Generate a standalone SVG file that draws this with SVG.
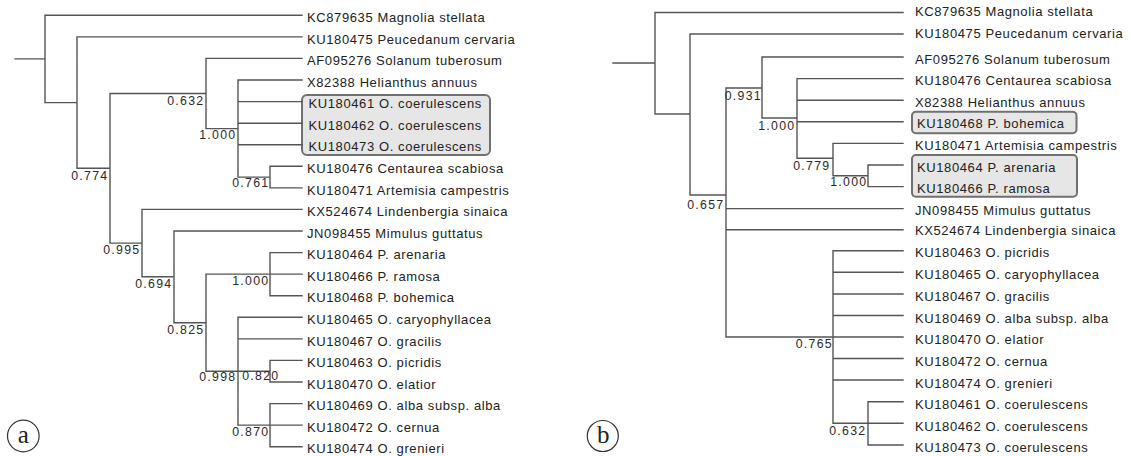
<svg xmlns="http://www.w3.org/2000/svg" width="1131" height="456" viewBox="0 0 1131 456">
<style>
.e{fill:none;stroke:#555;stroke-width:1.4;stroke-linecap:square}
.t{font-family:"Liberation Sans",Arial,sans-serif;font-size:13px;letter-spacing:0.6px;fill:#222}
.b{font-family:"Liberation Sans",Arial,sans-serif;font-size:12.3px;letter-spacing:1.3px;fill:#2a2a2a;text-anchor:end}
.box{fill:#e6e6e6;stroke:#707070;stroke-width:2}
.c{fill:none;stroke:#333;stroke-width:1.2}
.p{font-family:"Liberation Serif","Times New Roman",serif;font-size:25px;fill:#222;text-anchor:middle}
</style>
<rect width="1131" height="456" fill="#fff"/>
<g id="highlight-boxes">
<rect class="box" x="302" y="95" width="188" height="60" rx="5"/>
<rect class="box" x="912" y="111.7" width="164.5" height="21.6" rx="4"/>
<rect class="box" x="912" y="155" width="165" height="41.7" rx="4"/>
</g>
<g id="connectors">
<path class="e" d="M15 58.9H45M45 15.3V102.6M45 15.3H302M45 102.6H77M77 36.9V168.3M77 36.9H302M77 168.3H110M110 93.5V243.1M110 93.5H206M110 243.1H142M206 58.4V128.6M206 58.4H302M206 128.6H238M238 80V177.1M238 80H302M238 101.6H302M238 123.2H302M238 144.7H302M238 177.1H270M270 166.3V187.9M270 166.3H302M270 187.9H302M142 209.4V276.8M142 209.4H302M142 276.8H174M174 231V322.7M174 231H302M174 322.7H206M206 274.1V371.2M206 274.1H270M206 371.2H238M270 252.6V295.7M270 252.6H302M270 274.1H302M270 295.7H302M238 317.3V425.1M238 317.3H302M238 338.9H302M238 371.2H270M238 425.1H270M270 360.4V382M270 360.4H302M270 382H302M270 403.6V446.7M270 403.6H302M270 425.1H302M270 446.7H302"/>
<path class="e" d="M613 63H655M655 12.5V114M655 12.5H903M655 114H690M690 34V195M690 34H903M690 195H726M726 88V337M726 88H762M726 208.6H903M726 229.8H903M726 337H833M762 57V118M762 57H903M762 118H797M797 78.6V158.3M797 78.6H903M797 100.2H903M797 121.8H903M797 158.3H833M833 143.4V175.8M833 143.4H903M833 175.8H868M868 165V186.6M868 165H903M868 186.6H903M833 250.8V423.3M833 250.8H903M833 272.3H903M833 294H903M833 315.5H903M833 337H903M833 358.5H903M833 380H903M833 423.3H868M868 401.7V445M868 401.7H903M868 423.3H903M868 445H903"/>
</g>
<g id="tree-a-leaves">
<text class="t" x="307" y="22">KC879635 Magnolia stellata</text>
<text class="t" x="307" y="43.6">KU180475 Peucedanum cervaria</text>
<text class="t" x="307" y="65.1">AF095276 Solanum tuberosum</text>
<text class="t" x="307" y="86.7">X82388 Helianthus annuus</text>
<text class="t" x="308.5" y="108.3">KU180461 O. coerulescens</text>
<text class="t" x="308.5" y="129.9">KU180462 O. coerulescens</text>
<text class="t" x="308.5" y="151.4">KU180473 O. coerulescens</text>
<text class="t" x="307" y="173">KU180476 Centaurea scabiosa</text>
<text class="t" x="307" y="194.6">KU180471 Artemisia campestris</text>
<text class="t" x="307" y="216.1">KX524674 Lindenbergia sinaica</text>
<text class="t" x="307" y="237.7">JN098455 Mimulus guttatus</text>
<text class="t" x="307" y="259.3">KU180464 P. arenaria</text>
<text class="t" x="307" y="280.8">KU180466 P. ramosa</text>
<text class="t" x="307" y="302.4">KU180468 P. bohemica</text>
<text class="t" x="307" y="324">KU180465 O. caryophyllacea</text>
<text class="t" x="307" y="345.6">KU180467 O. gracilis</text>
<text class="t" x="307" y="367.1">KU180463 O. picridis</text>
<text class="t" x="307" y="388.7">KU180470 O. elatior</text>
<text class="t" x="307" y="410.3">KU180469 O. alba subsp. alba</text>
<text class="t" x="307" y="431.8">KU180472 O. cernua</text>
<text class="t" x="307" y="453.4">KU180474 O. grenieri</text>
</g>
<g id="tree-a-support">
<text class="b" x="204.5" y="104.5">0.632</text>
<text class="b" x="236.5" y="138.5">1.000</text>
<text class="b" x="108.5" y="179.5">0.774</text>
<text class="b" x="269.5" y="187">0.761</text>
<text class="b" x="140.5" y="254">0.995</text>
<text class="b" x="172.5" y="288.3">0.694</text>
<text class="b" x="204.5" y="334">0.825</text>
<text class="b" x="269.5" y="285.3">1.000</text>
<text class="b" x="236.5" y="381.3">0.998</text>
<text class="b" x="279.5" y="380.3">0.820</text>
<text class="b" x="269.5" y="436">0.870</text>
</g>
<g id="tree-b-leaves">
<text class="t" x="915" y="16">KC879635 Magnolia stellata</text>
<text class="t" x="915" y="37.7">KU180475 Peucedanum cervaria</text>
<text class="t" x="915" y="63.5">AF095276 Solanum tuberosum</text>
<text class="t" x="915" y="84.7">KU180476 Centaurea scabiosa</text>
<text class="t" x="915" y="106.5">X82388 Helianthus annuus</text>
<text class="t" x="917" y="128.3">KU180468 P. bohemica</text>
<text class="t" x="915" y="150">KU180471 Artemisia campestris</text>
<text class="t" x="917" y="171.7">KU180464 P. arenaria</text>
<text class="t" x="917" y="193.3">KU180466 P. ramosa</text>
<text class="t" x="915" y="215">JN098455 Mimulus guttatus</text>
<text class="t" x="915" y="234.5">KX524674 Lindenbergia sinaica</text>
<text class="t" x="915" y="257.3">KU180463 O. picridis</text>
<text class="t" x="915" y="279">KU180465 O. caryophyllacea</text>
<text class="t" x="915" y="301">KU180467 O. gracilis</text>
<text class="t" x="915" y="322.7">KU180469 O. alba subsp. alba</text>
<text class="t" x="915" y="344">KU180470 O. elatior</text>
<text class="t" x="915" y="365.7">KU180472 O. cernua</text>
<text class="t" x="915" y="387.7">KU180474 O. grenieri</text>
<text class="t" x="915" y="409">KU180461 O. coerulescens</text>
<text class="t" x="915" y="430.7">KU180462 O. coerulescens</text>
<text class="t" x="915" y="452.3">KU180473 O. coerulescens</text>
</g>
<g id="tree-b-support">
<text class="b" x="762" y="100">0.931</text>
<text class="b" x="795.5" y="130">1.000</text>
<text class="b" x="830.5" y="170">0.779</text>
<text class="b" x="867.5" y="186">1.000</text>
<text class="b" x="724.5" y="209.3">0.657</text>
<text class="b" x="833" y="348">0.765</text>
<text class="b" x="866.5" y="435">0.632</text>
</g>
<g id="panel-a">
<circle class="c" cx="23.3" cy="436" r="15.8"/>
<text class="p" x="23.3" y="443.3">a</text>
</g>
<g id="panel-b">
<circle class="c" cx="602.8" cy="436" r="15.5"/>
<text class="p" x="603.3" y="443.3">b</text>
</g>
</svg>
